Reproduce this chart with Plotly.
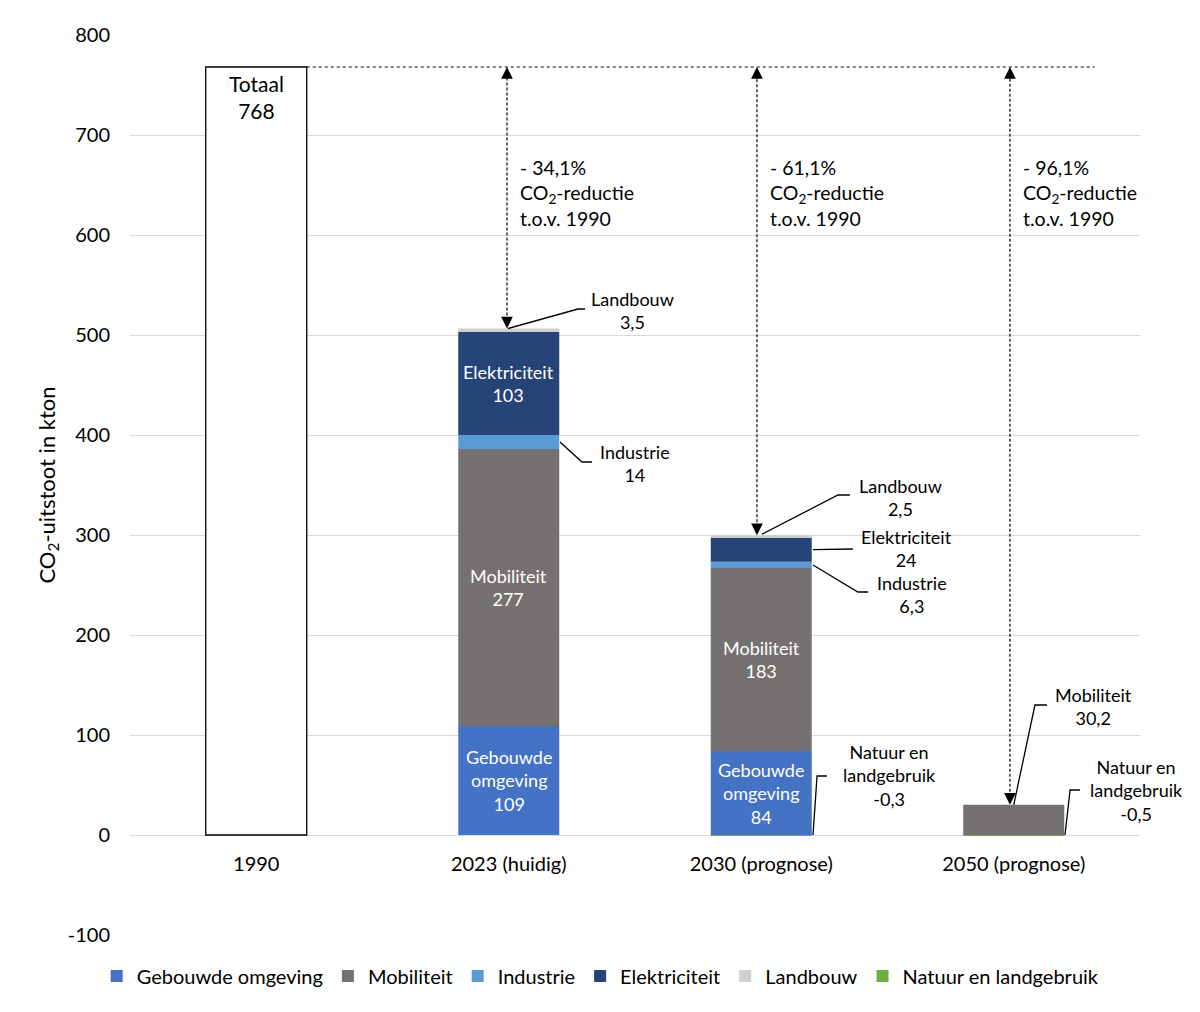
import plotly.graph_objects as go

FONT = "Lato"

categories = ["1990", "2023 (huidig)", "2030 (prognose)", "2050 (prognose)"]
total_1990 = 768

sectors = ["Gebouwde omgeving", "Mobiliteit", "Industrie", "Elektriciteit", "Landbouw", "Natuur en landgebruik"]
gebouwde = [None, 109, 84, None]
mobiliteit = [None, 277, 183, 30.2]
industrie = [None, 14, 6.3, None]
elektriciteit = [None, 103, 24, None]
landbouw = [None, 3.5, 2.5, None]
natuur = [None, None, -0.3, -0.5]

reduction_labels = ["- 34,1%", "- 61,1%", "- 96,1%"]
y_tickvals = [-100, 0, 100, 200, 300, 400, 500, 600, 700, 800]
y_ticktext = ["-100", "0", "100", "200", "300", "400", "500", "600", "700", "800"]

colors = {
    "Gebouwde omgeving": "#4472C4",
    "Mobiliteit": "#767171",
    "Industrie": "#5B9BD5",
    "Elektriciteit": "#264478",
    "Landbouw": "#D0CECE",
    "Natuur en landgebruik": "#70AD47",
}
series = dict(zip(sectors, [gebouwde, mobiliteit, industrie, elektriciteit, landbouw, natuur]))

fig = go.Figure()
fig.add_trace(go.Bar(x=categories, y=[total_1990, None, None, None], marker=dict(color="white", line=dict(color="black", width=1.3)),
                     width=0.4, showlegend=False, hoverinfo="skip"))
for s in sectors:
    fig.add_trace(go.Bar(x=categories, y=series[s], name=s, marker=dict(color=colors[s], line=dict(width=0)), width=0.4))


def fmt(v):
    return (f"{v:g}").replace(".", ",")


LBL = 18
annotations = []
shapes = []
# inside labels
annotations.append(dict(x=0, y=total_1990 - 30, text=f"Totaal<br>{total_1990}", showarrow=False, font=dict(size=21, color="black")))
for i in (1, 2):
    g, m, ind, e = gebouwde[i], mobiliteit[i], industrie[i], elektriciteit[i]
    annotations.append(dict(x=i, y=g / 2, text=f"Gebouwde<br>omgeving<br>{fmt(g)}", showarrow=False, font=dict(size=LBL, color="white")))
    annotations.append(dict(x=i, y=g + m / 2, text=f"Mobiliteit<br>{fmt(m)}", showarrow=False, font=dict(size=LBL, color="white")))
    if i == 1:
        annotations.append(dict(x=i, y=g + m + ind + e / 2, text=f"Elektriciteit<br>{fmt(e)}", showarrow=False, font=dict(size=LBL, color="white")))

totals = []
for i in range(1, 4):
    totals.append(sum(v[i] for v in (gebouwde, mobiliteit, industrie, elektriciteit, landbouw) if v[i] is not None))

# callouts: (points as (x, y) data coords, label position, text)
t23, t30, t50 = totals
callouts = [
    ([(0.997, t23), (1.274, 526), (1.302, 526)], (1.49, 525), f"Landbouw<br>{fmt(landbouw[1])}"),
    ([(1.203, 109 + 277 + 7), (1.290, 373), (1.330, 373)], (1.50, 372), f"Industrie<br>{fmt(industrie[1])}"),
    ([(2.003, t30 + 1), (2.304, 340), (2.351, 340)], (2.55, 338), f"Landbouw<br>{fmt(landbouw[2])}"),
    ([(2.205, 84 + 183 + 6.3 + 12), (2.363, 286)], (2.577, 287), f"Elektriciteit<br>{fmt(elektriciteit[2])}"),
    ([(2.205, 84 + 183 + 3), (2.383, 243), (2.423, 243)], (2.597, 241), f"Industrie<br>{fmt(industrie[2])}"),
    ([(2.205, 0), (2.221, 59), (2.260, 59)], (2.506, 60), f"Natuur en<br>landgebruik<br>{fmt(natuur[2])}"),
    ([(3.0, mobiliteit[3]), (3.084, 130), (3.132, 130)], (3.314, 129), f"Mobiliteit<br>{fmt(mobiliteit[3])}"),
    ([(3.203, 0), (3.223, 45), (3.262, 45)], (3.488, 45), f"Natuur en<br>landgebruik<br>{fmt(natuur[3])}"),
]
for pts, (lx, ly), txt in callouts:
    path = "M " + " L ".join(f"{x},{y}" for x, y in pts)
    shapes.append(dict(type="path", path=path, xref="x", yref="y", line=dict(color="black", width=1.3)))
    annotations.append(dict(x=lx, y=ly, text=txt, showarrow=False, font=dict(size=LBL, color="black")))

# dashed total line
shapes.append(dict(type="line", xref="x", yref="y", x0=0.2, x1=3.32, y0=total_1990, y1=total_1990,
                   line=dict(color="black", width=1, dash="3px,3px")))

# reduction arrows
arrow_x = [0.993, 1.983, 2.985]
for ax_, tot, lab in zip(arrow_x, totals, reduction_labels):
    shapes.append(dict(type="line", xref="x", yref="y", x0=ax_, x1=ax_, y0=tot + 8, y1=total_1990 - 8,
                       line=dict(color="black", width=1.2, dash="3px,2px")))
    annotations.append(dict(x=ax_, y=total_1990, ax=0, ay=12, text="", showarrow=True, arrowhead=2,
                            arrowsize=1.8, arrowwidth=1.3, arrowcolor="black"))
    annotations.append(dict(x=ax_, y=tot, ax=0, ay=-12, text="", showarrow=True, arrowhead=2,
                            arrowsize=1.8, arrowwidth=1.3, arrowcolor="black"))
    annotations.append(dict(x=ax_ + 0.045, y=642, xanchor="left", align="left", showarrow=False,
                            text=f"{lab}<br>CO<sub>2</sub>-reductie<br>t.o.v. 1990", font=dict(size=19.5, color="black")))

fig.update_layout(
    width=1200, height=1012,
    margin=dict(l=130, r=60, t=35, b=77),
    paper_bgcolor="white", plot_bgcolor="white",
    barmode="relative",
    bargap=0.6,
    font=dict(family=FONT, size=20, color="black"),
    showlegend=True,
    legend=dict(orientation="h", x=0.466, xanchor="center", y=-0.0456, yanchor="middle",
                font=dict(size=20), traceorder="normal", itemwidth=30),
    shapes=shapes,
    annotations=annotations,
)
fig.update_xaxes(type="category", anchor="free", position=100 / 900, showline=False, showgrid=False,
                 ticks="", ticklabelstandoff=15, tickfont=dict(size=20), range=[-0.5, 3.5])
fig.update_yaxes(range=[-100, 800], tickvals=y_tickvals, ticktext=y_ticktext, showgrid=True, gridcolor="#D9D9D9", gridwidth=1,
                 zeroline=False, showline=False, ticks="", ticklabelstandoff=19, tickfont=dict(size=20),
                 title=dict(text="CO<sub>2</sub>-uitstoot in kton", font=dict(size=22), standoff=6))

fig.write_html("out.html")
